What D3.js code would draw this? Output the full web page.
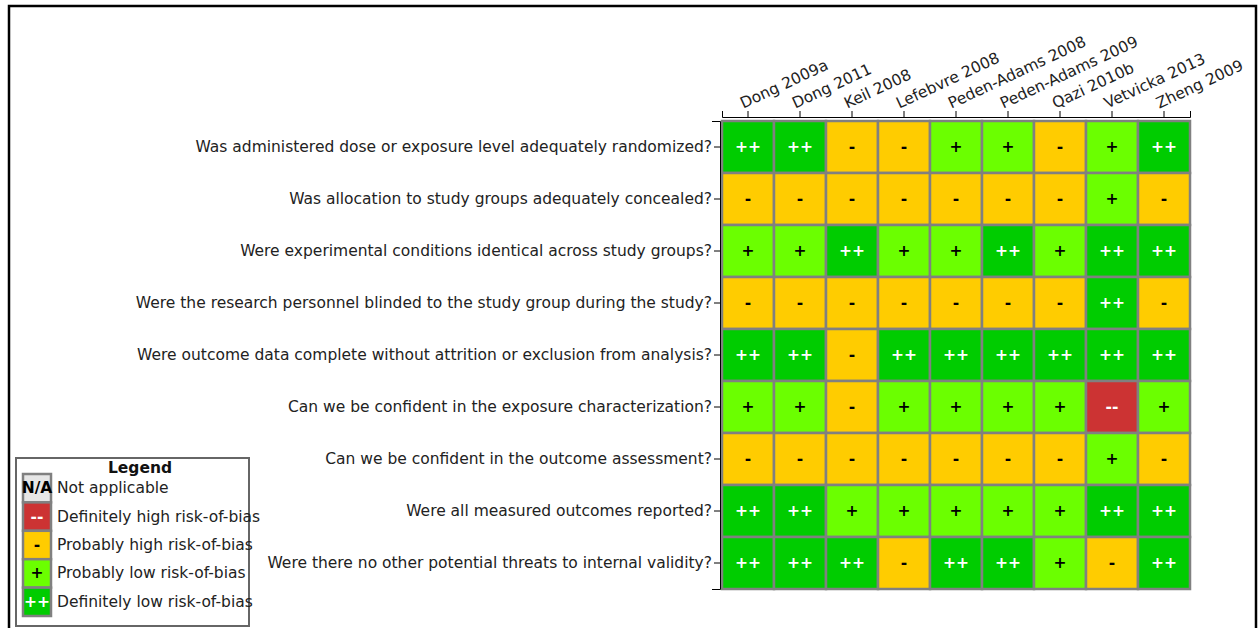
<!DOCTYPE html>
<html>
<head>
<meta charset="utf-8">
<script src="https://cdn.jsdelivr.net/npm/d3@7"></script>
<style>
  html, body { margin: 0; padding: 0; background: #fff; }
  svg { display: block; font-family: "DejaVu Sans", sans-serif; }
</style>
</head>
<body>
<svg id="chart" width="1259" height="628"></svg>
<script>
// Studies (columns)
const studies = ["Dong 2009a", "Dong 2011", "Keil 2008", "Lefebvre 2008", "Peden-Adams 2008",
  "Peden-Adams 2009", "Qazi 2010b", "Vetvicka 2013", "Zheng 2009"];

// Risk-of-bias questions (rows)
const questions = [
  "Was administered dose or exposure level adequately randomized?",
  "Was allocation to study groups adequately concealed?",
  "Were experimental conditions identical across study groups?",
  "Were the research personnel blinded to the study group during the study?",
  "Were outcome data complete without attrition or exclusion from analysis?",
  "Can we be confident in the exposure characterization?",
  "Can we be confident in the outcome assessment?",
  "Were all measured outcomes reported?",
  "Were there no other potential threats to internal validity?"
];

// Ratings per question, one entry per study
const ratings = [
  ["++", "++", "-", "-", "+", "+", "-", "+", "++"],
  ["-", "-", "-", "-", "-", "-", "-", "+", "-"],
  ["+", "+", "++", "+", "+", "++", "+", "++", "++"],
  ["-", "-", "-", "-", "-", "-", "-", "++", "-"],
  ["++", "++", "-", "++", "++", "++", "++", "++", "++"],
  ["+", "+", "-", "+", "+", "+", "+", "--", "+"],
  ["-", "-", "-", "-", "-", "-", "-", "+", "-"],
  ["++", "++", "+", "+", "+", "+", "+", "++", "++"],
  ["++", "++", "++", "-", "++", "++", "+", "-", "++"]
];

// Legend entries
const legendKeys = ["N/A", "--", "-", "+", "++"];
const legendLabels = ["Not applicable", "Definitely high risk-of-bias", "Probably high risk-of-bias",
  "Probably low risk-of-bias", "Definitely low risk-of-bias"];

const fillColor = d3.scaleOrdinal()
  .domain(["N/A", "--", "-", "+", "++"])
  .range(["#e6e6e6", "#cc3333", "#ffcc00", "#6bff00", "#00cc00"]);
const textColor = d3.scaleOrdinal()
  .domain(["N/A", "--", "-", "+", "++"])
  .range(["#000", "#fff", "#000", "#000", "#fff"]);

const FONT = 15.5;
const svg = d3.select("#chart");

// Outer frame
svg.append("rect")
  .attr("x", 9).attr("y", 6).attr("width", 1247).attr("height", 700)
  .attr("fill", "none").attr("stroke", "#000").attr("stroke-width", 2.5);

const grid = { left: 722, top: 121, cell: 52 };
const x = d3.scaleBand().domain(studies)
  .range([grid.left, grid.left + grid.cell * studies.length]);
const y = d3.scaleBand().domain(questions)
  .range([grid.top, grid.top + grid.cell * questions.length]);

const cells = [];
questions.forEach((q, i) => studies.forEach((s, j) => cells.push({ q, s, v: ratings[i][j] })));

const g = svg.append("g");
g.selectAll("rect.cell").data(cells).join("rect")
  .attr("class", "cell")
  .attr("x", d => x(d.s)).attr("y", d => y(d.q))
  .attr("width", x.bandwidth()).attr("height", y.bandwidth())
  .attr("fill", d => fillColor(d.v))
  .attr("stroke", "#808080").attr("stroke-width", 2.5);

g.selectAll("text.cell").data(cells).join("text")
  .attr("class", "cell")
  .attr("x", d => x(d.s) + x.bandwidth() / 2)
  .attr("y", d => y(d.q) + y.bandwidth() / 2)
  .attr("text-anchor", "middle").attr("dominant-baseline", "central")
  .attr("font-size", 15.5).attr("font-weight", "bold")
  .attr("fill", d => textColor(d.v))
  .text(d => d.v);

// Left axis with question labels
const yAxis = svg.append("g")
  .attr("transform", `translate(${grid.left - 2},0)`)
  .call(d3.axisLeft(y).tickSize(6).tickSizeOuter(8).tickPadding(2));
yAxis.selectAll("text").attr("font-size", FONT).attr("fill", "#222")
  .attr("font-family", "DejaVu Sans, sans-serif");

// Top axis with study labels
const xAxis = svg.append("g")
  .attr("transform", `translate(0,${grid.top - 4})`)
  .call(d3.axisTop(x).tickSize(6).tickSizeOuter(6));
xAxis.selectAll("text")
  .attr("font-size", FONT).attr("fill", "#222")
  .attr("font-family", "DejaVu Sans, sans-serif")
  .attr("text-anchor", "start")
  .attr("transform", "translate(-1,0) rotate(-25)")
  .attr("dy", "0");

// Legend
const lg = svg.append("g");
lg.append("rect")
  .attr("x", 16).attr("y", 458).attr("width", 233).attr("height", 168)
  .attr("fill", "#fff").attr("stroke", "#666").attr("stroke-width", 2);
lg.append("text")
  .attr("x", 140).attr("y", 473).attr("text-anchor", "middle")
  .attr("font-size", FONT).attr("font-weight", "bold").attr("fill", "#111")
  .text("Legend");
const ly = d3.scaleBand().domain(legendKeys).range([474, 616]);
const items = lg.selectAll("g.item").data(legendKeys).join("g").attr("class", "item");
items.append("rect")
  .attr("x", 23).attr("y", d => ly(d))
  .attr("width", 28).attr("height", ly.bandwidth())
  .attr("fill", d => fillColor(d)).attr("stroke", "#808080").attr("stroke-width", 2.5);
items.append("text")
  .attr("x", 37).attr("y", d => ly(d) + ly.bandwidth() / 2)
  .attr("text-anchor", "middle").attr("dominant-baseline", "central")
  .attr("font-size", FONT).attr("font-weight", "bold")
  .attr("fill", d => textColor(d))
  .text(d => d);
items.append("text")
  .attr("x", 57).attr("y", d => ly(d) + ly.bandwidth() / 2)
  .attr("dominant-baseline", "central")
  .attr("font-size", FONT).attr("fill", "#222")
  .text((d, i) => legendLabels[i]);
</script>
</body>
</html>
